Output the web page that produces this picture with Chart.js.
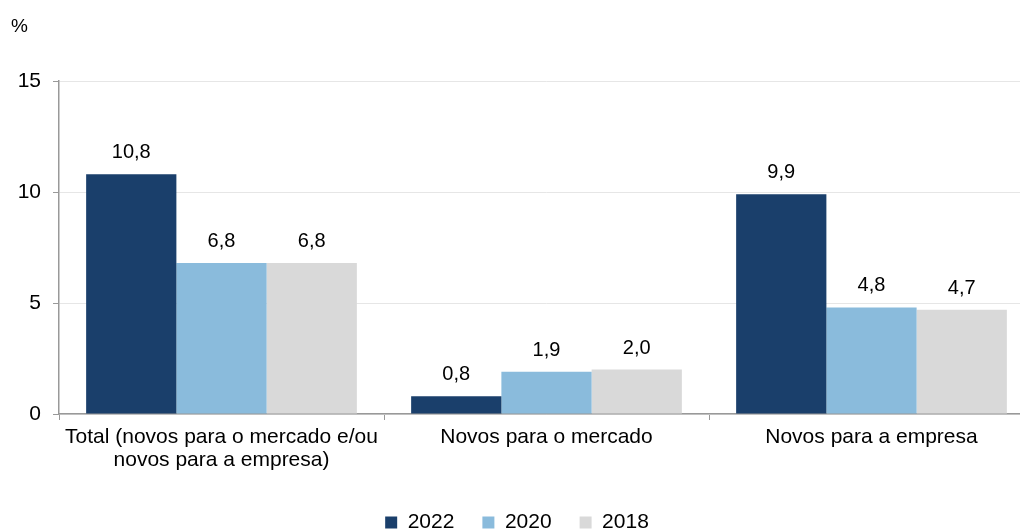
<!DOCTYPE html>
<html>
<head>
<meta charset="utf-8">
<script src="https://cdn.jsdelivr.net/npm/chart.js@4"></script>
<style>
  html, body { margin: 0; padding: 0; background: #fff; }
  #wrap { width: 1020px; height: 532px; overflow: hidden; position: relative; }
  #c { display: block; }
</style>
</head>
<body>
<div id="wrap"><canvas id="c" width="1040" height="543"></canvas></div>
<script>
const categories = [
  ["Total (novos para o mercado e/ou", "novos para a empresa)"],
  "Novos para o mercado",
  "Novos para a empresa"
];
const seriesNames = ["2022", "2020", "2018"];
const values2022 = [10.8, 0.8, 9.9];
const values2020 = [6.8, 1.9, 4.8];
const values2018 = [6.8, 2.0, 4.7];
const yTicks = [0, 5, 10, 15];
const unitLabel = "%";

const colors = ["#1a3f6b", "#8abbdc", "#d9d9d9"];
const FONT = "'Liberation Sans', Arial, sans-serif";

const labelPlugin = {
  id: 'valueLabels',
  afterDatasetsDraw(chart) {
    const ctx = chart.ctx;
    ctx.save();
    ctx.font = "20px " + FONT;
    ctx.fillStyle = "#000";
    ctx.textAlign = "center";
    ctx.textBaseline = "alphabetic";
    chart.data.datasets.forEach((ds, i) => {
      const meta = chart.getDatasetMeta(i);
      meta.data.forEach((el, j) => {
        const v = ds.data[j];
        ctx.fillText(v.toFixed(1).replace('.', ','), el.x, el.y - 16);
      });
    });
    ctx.font = "19px " + FONT;
    ctx.textAlign = "left";
    ctx.fillText(unitLabel, 11, 32);
    ctx.restore();
  }
};

new Chart(document.getElementById('c'), {
  type: 'bar',
  data: {
    labels: categories,
    datasets: [
      { label: seriesNames[0], data: values2022, backgroundColor: colors[0] },
      { label: seriesNames[1], data: values2020, backgroundColor: colors[1] },
      { label: seriesNames[2], data: values2018, backgroundColor: colors[2] }
    ]
  },
  options: {
    responsive: false,
    animation: false,
    devicePixelRatio: 1,
    layout: { padding: { top: 81, left: 0, right: 6, bottom: 0 } },
    datasets: { bar: { categoryPercentage: 0.833, barPercentage: 1.0 } },
    plugins: {
      legend: {
        position: 'bottom',
        labels: {
          font: { family: FONT, size: 21 },
          color: '#000',
          boxWidth: 12,
          boxHeight: 12,
          padding: 28
        }
      },
      tooltip: { enabled: false }
    },
    scales: {
      x: {
        offset: true,
        grid: { display: true, drawOnChartArea: false, drawTicks: true, tickLength: 6, color: '#999', offset: true },
        border: { color: '#999', width: 1.5 },
        ticks: { font: { family: FONT, size: 21, lineHeight: 1.1 }, color: '#000', maxRotation: 0, autoSkip: false, padding: 6 },
        afterFit(scale) { scale.height = 70; }
      },
      y: {
        min: 0, max: 15,
        afterBuildTicks(scale) { scale.ticks = yTicks.map(v => ({ value: v })); },
        grid: { color: '#e6e6e6', tickColor: '#999', tickLength: 6, lineWidth: 1 },
        border: { color: '#999', width: 1.5 },
        ticks: { font: { family: FONT, size: 21 }, color: '#000', padding: 12 },
        afterFit(scale) { scale.width = 59; }
      }
    }
  },
  plugins: [labelPlugin]
});
</script>
</body>
</html>
